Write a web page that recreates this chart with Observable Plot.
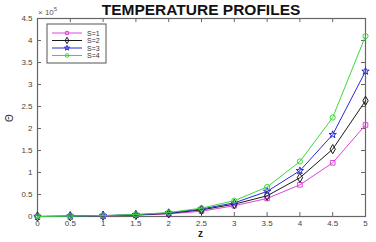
<!DOCTYPE html>
<html>
<head>
<meta charset="utf-8">
<script src="https://cdn.jsdelivr.net/npm/d3@7"></script>
<script src="https://cdn.jsdelivr.net/npm/@observablehq/plot@0.6"></script>
<style>
  html, body { margin: 0; padding: 0; background: #fff; }
  #wrap { position: relative; width: 376px; height: 242px; font-family: "Liberation Sans", Arial, sans-serif; }
  #wrap svg.plot { position: absolute; left: 0; top: 0; }
  .ov { position: absolute; white-space: nowrap; line-height: 1; }
</style>
</head>
<body>
<div id="wrap"></div>
<script>
const z = [0, 0.5, 1, 1.5, 2, 2.5, 3, 3.5, 4, 4.5, 5];
const s1 = [0, 500, 1500, 3000, 6000, 12000, 24500, 41000, 72000, 122000, 208000];
const s2 = [0, 600, 1800, 3500, 7000, 15000, 28000, 47000, 88000, 153000, 263000];
const s3 = [0, 700, 2000, 4000, 8000, 17000, 31000, 57000, 104000, 186000, 330000];
const s4 = [0, 800, 2200, 4500, 9000, 19000, 36000, 67000, 125000, 225000, 410000];
const seriesNames = ["S=1", "S=2", "S=3", "S=4"];
const seriesValues = [s1, s2, s3, s4];
const colors = ["#dd44dd", "#1a1a1a", "#2a2ad0", "#3ed63e"];
const symbols = ["square", "diamond", "star", "circle"];
const xTicks = [0, 0.5, 1, 1.5, 2, 2.5, 3, 3.5, 4, 4.5, 5];
const yTicks = [0, 50000, 100000, 150000, 200000, 250000, 300000, 350000, 400000, 450000];

const rows = [];
seriesValues.forEach((vals, i) => vals.forEach((v, j) => rows.push({s: seriesNames[i], z: z[j], v})));

const W = 376, H = 242, mL = 37, mR = 11, mT = 18, mB = 26;
const fw = W - mL - mR, fh = H - mT - mB;
const axisColor = "#666";
const radii = [2.6, 2.8, 2.3, 2.6];

const marks = [
  Plot.frame({stroke: axisColor, strokeWidth: 1.2}),
  Plot.tickX(xTicks, {x: d => d, insetTop: fh - 4, stroke: axisColor}),
  Plot.tickX(xTicks, {x: d => d, insetBottom: fh - 4, stroke: axisColor}),
  Plot.tickY(yTicks, {y: d => d, insetRight: fw - 4, stroke: axisColor}),
  Plot.tickY(yTicks, {y: d => d, insetLeft: fw - 4, stroke: axisColor}),
  Plot.axisX({ticks: xTicks, tickSize: 0, tickPadding: 4, label: null, fontSize: 8, color: "#444", tickFormat: d => String(d)}),
  Plot.axisY({ticks: yTicks, tickSize: 0, tickPadding: 5, label: null, fontSize: 8, color: "#444", tickFormat: d => String(d / 1e5)})
];
seriesNames.forEach((name, i) => {
  const data = rows.filter(r => r.s === name);
  marks.push(Plot.line(data, {x: "z", y: "v", stroke: colors[i], strokeWidth: 1}));
  marks.push(Plot.dot(data, {x: "z", y: "v", stroke: colors[i], symbol: symbols[i], r: radii[i], strokeWidth: 1, fill: "none"}));
});

const chart = Plot.plot({
  width: W, height: H,
  marginLeft: mL, marginRight: mR, marginTop: mT, marginBottom: mB,
  style: {fontFamily: "'Liberation Sans', Arial, sans-serif", background: "transparent"},
  x: {domain: [0, 5]},
  y: {domain: [0, 450000]},
  marks
});
chart.classList.add("plot");
const wrap = document.getElementById("wrap");
wrap.appendChild(chart);

function ov(html, css) {
  const d = document.createElement("div");
  d.className = "ov";
  d.innerHTML = html;
  Object.assign(d.style, css);
  wrap.appendChild(d);
  return d;
}
ov("TEMPERATURE PROFILES", {left: "0px", width: "402px", textAlign: "center", top: "2px", fontSize: "15.5px", fontWeight: "bold", color: "#111"});
ov("× 10<sup style='font-size:6px;vertical-align:4px'>5</sup>", {left: "38px", top: "6px", fontSize: "8px", color: "#555"});
ov("Θ", {left: "6px", top: "113px", fontSize: "10px", color: "#333", transform: "rotate(-90deg)"});
ov("z", {left: "198px", top: "229px", fontSize: "10px", fontWeight: "bold", color: "#222"});

// legend
const lg = d3.select(wrap).append("svg").attr("width", 62).attr("height", 42)
  .style("position", "absolute").style("left", "46px").style("top", "23px");
lg.append("rect").attr("x", 1).attr("y", 1).attr("width", 59).attr("height", 39)
  .attr("fill", "#fff").attr("stroke", "#555").attr("stroke-width", 1);
const legendSizes = [10, 12, 8, 10];
seriesNames.forEach((name, i) => {
  const y = 10 + i * 7.5;
  lg.append("line").attr("x1", 6).attr("x2", 36).attr("y1", y).attr("y2", y).attr("stroke", colors[i]).attr("stroke-width", 1);
  lg.append("path").attr("d", d3.symbol(d3["symbol" + symbols[i][0].toUpperCase() + symbols[i].slice(1)], legendSizes[i])())
    .attr("transform", `translate(21,${y})`).attr("fill", "none").attr("stroke", colors[i]).attr("stroke-width", 1);
  lg.append("text").attr("x", 41).attr("y", y + 2.5).attr("font-size", 7).attr("fill", "#333")
    .attr("font-family", "'Liberation Sans', Arial, sans-serif").text(name);
});
</script>
</body>
</html>
